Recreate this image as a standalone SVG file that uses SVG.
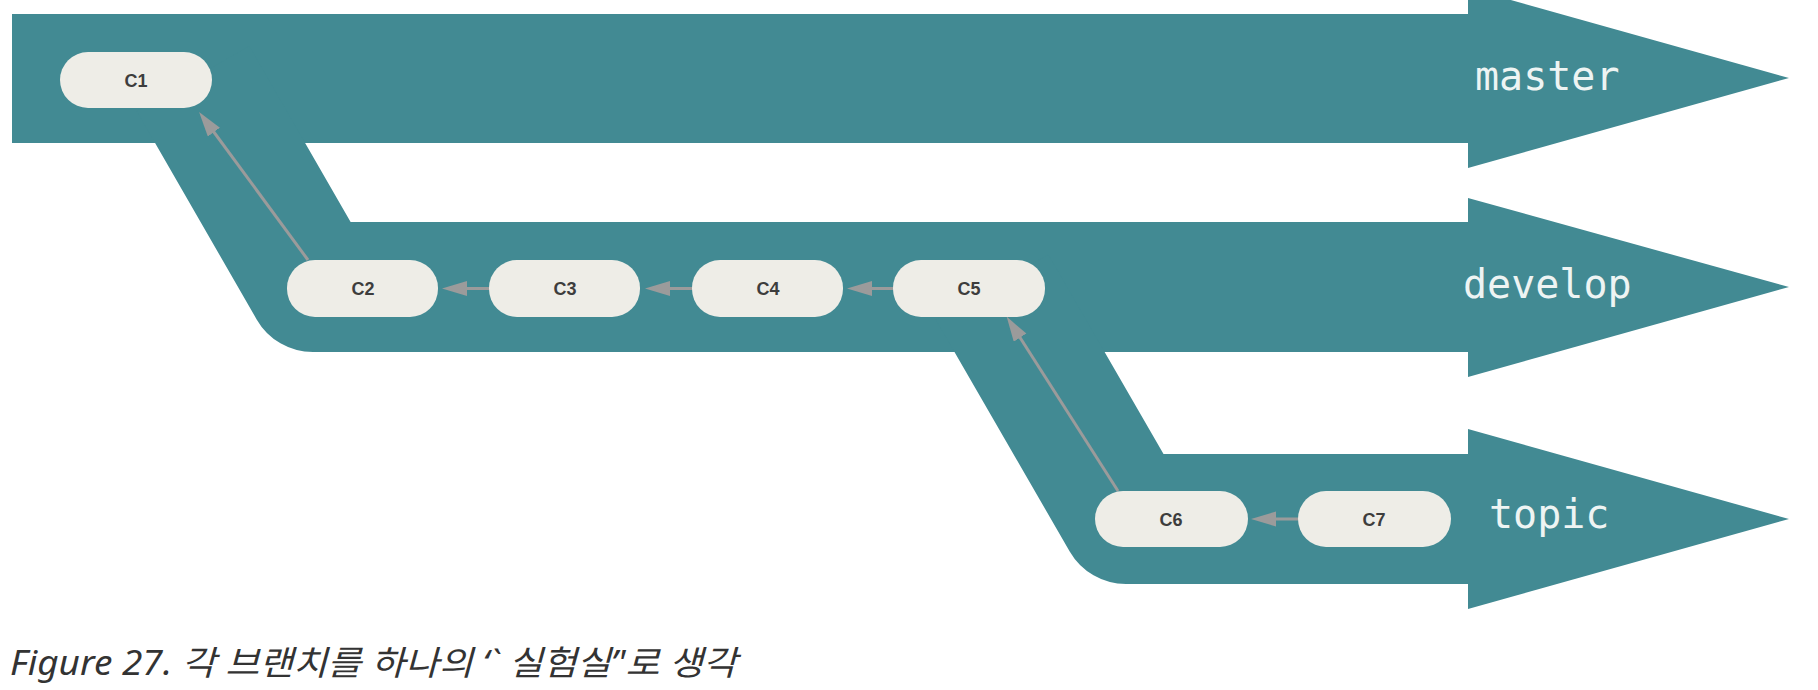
<svg xmlns="http://www.w3.org/2000/svg" width="1818" height="690" viewBox="0 0 1818 690">
<style>
.band{fill:#428a93}
.stroke-band{fill:none;stroke:#428a93;stroke-width:130;stroke-linejoin:round;stroke-linecap:butt}
.pill{fill:#eeede7}
.ctext{font-family:"Liberation Sans",Arial,sans-serif;font-size:18px;font-weight:bold;fill:#3d3d3d;text-anchor:middle}
.blabel{font-family:"DejaVu Sans Mono","Liberation Mono",monospace;font-size:40px;fill:#eef4f3}
.conn{fill:none;stroke:#9b9b9b;stroke-width:3}
.caption{font-family:"Noto Sans","Noto Sans CJK KR",sans-serif;font-style:italic;font-size:34px;fill:#333333}
</style>
<defs>
<marker id="ah" markerUnits="userSpaceOnUse" markerWidth="26" markerHeight="16" refX="15" refY="7.5" orient="auto">
<path d="M0,0 L25,7.5 L0,15 z" fill="#9b9b9b"/>
</marker>
</defs>
<rect width="1818" height="690" fill="#ffffff"/>
<g id="branch-master">
<rect class="band" x="12" y="14" width="1457" height="129"/>
<polygon class="band" points="1468,-12 1789,78 1468,168"/>
<text class="blabel" x="1475" y="90">master</text>
</g>
<g id="branch-develop">
<path class="stroke-band" d="M193,78.5 L313,287 L1469,287"/>
<polygon class="band" points="1468,198 1789,287 1468,377"/>
<text class="blabel" x="1463" y="298">develop</text>
</g>
<g id="branch-topic">
<path class="stroke-band" d="M992,287 L1126,519 L1469,519"/>
<polygon class="band" points="1468,429 1789,519 1468,609"/>
<text class="blabel" x="1489" y="528">topic</text>
</g>
<g id="connectors">
<line class="conn" x1="308" y1="260" x2="205" y2="120" marker-end="url(#ah)"/>
<line class="conn" x1="489" y1="288.5" x2="452" y2="288.5" marker-end="url(#ah)"/>
<line class="conn" x1="692" y1="288.5" x2="655" y2="288.5" marker-end="url(#ah)"/>
<line class="conn" x1="893" y1="288.5" x2="857" y2="288.5" marker-end="url(#ah)"/>
<line class="conn" x1="1118" y1="491" x2="1012" y2="325" marker-end="url(#ah)"/>
<line class="conn" x1="1298" y1="519" x2="1261" y2="519" marker-end="url(#ah)"/>
</g>
<g id="C1"><rect class="pill" x="60" y="52" width="152" height="56" rx="28"/><text class="ctext" x="136" y="87">C1</text></g>
<g id="C2"><rect class="pill" x="287" y="260" width="151" height="57" rx="28"/><text class="ctext" x="363" y="295">C2</text></g>
<g id="C3"><rect class="pill" x="489" y="260" width="151" height="57" rx="28"/><text class="ctext" x="565" y="295">C3</text></g>
<g id="C4"><rect class="pill" x="692" y="260" width="151" height="57" rx="28"/><text class="ctext" x="768" y="295">C4</text></g>
<g id="C5"><rect class="pill" x="893" y="260" width="152" height="57" rx="28"/><text class="ctext" x="969" y="295">C5</text></g>
<g id="C6"><rect class="pill" x="1095" y="491" width="153" height="56" rx="28"/><text class="ctext" x="1171" y="526">C6</text></g>
<g id="C7"><rect class="pill" x="1298" y="491" width="153" height="56" rx="28"/><text class="ctext" x="1374" y="526">C7</text></g>
<text class="caption" x="10" y="675" textLength="727" lengthAdjust="spacingAndGlyphs">Figure 27. 각 브랜치를 하나의 ‘` 실험실’'로 생각</text>
</svg>
